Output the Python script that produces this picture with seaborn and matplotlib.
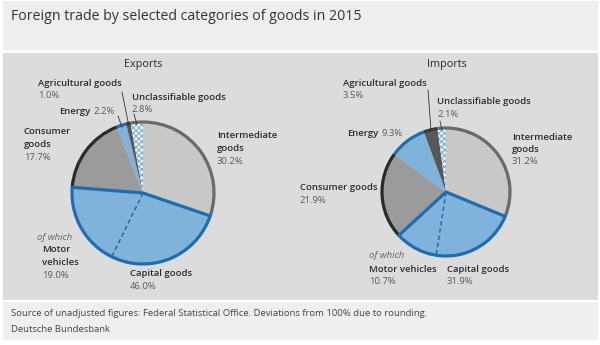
import numpy as np
import matplotlib
matplotlib.use("Agg")
import matplotlib.pyplot as plt
from matplotlib.patches import Rectangle, Wedge, Arc
import seaborn as sns

# ---------------- data ----------------
title = "Foreign trade by selected categories of goods in 2015"
categories = ["Intermediate goods", "Capital goods", "Consumer goods",
              "Energy", "Agricultural goods", "Unclassifiable goods"]
exports = [30.2, 46.0, 17.7, 2.2, 1.0, 2.8]
exports_motor = 19.0
imports = [31.2, 31.9, 21.9, 9.3, 3.5, 2.1]
imports_motor = 10.7
footer1 = "Source of unadjusted figures: Federal Statistical Office. Deviations from 100% due to rounding."
footer2 = "Deutsche Bundesbank"

# ---------------- style ----------------
sns.set_theme(style="white")
plt.rcParams['font.family'] = ['Open Sans', 'DejaVu Sans']
plt.rcParams['hatch.linewidth'] = 0.9

W, H = 600, 345
fig = plt.figure(figsize=(6, 3.45), dpi=100)
fig.patch.set_facecolor("white")
ax = fig.add_axes([0, 0, 1, 1])

def Y(py):
    return H - py

# background bands
ax.add_patch(Rectangle((3, Y(50)), 595, 49, facecolor="#eeeeee", edgecolor="none", zorder=0))
ax.add_patch(Rectangle((3, Y(300)), 595, 247, facecolor="#dcdcdc", edgecolor="none", zorder=0))
ax.add_patch(Rectangle((3, Y(340)), 595, 38, facecolor="#efefef", edgecolor="none", zorder=0))

BLUE_FILL = "#80b3db"
BLUE_EDGE = "#1f6db0"
fills = ["#c8c8c8", BLUE_FILL, BLUE_FILL, "#9b9b9b", BLUE_FILL, "#585858", "white"]
rims = ["#6a6a6a", None, None, "#2a2a2a", BLUE_EDGE, "#3a3a3a", "#6a6a6a"]


def draw_pie(vals, motor, cx, cy, r):
    v = [vals[0], vals[1] - motor, motor] + list(vals[2:])
    wedges, _ = ax.pie(v, colors=fills, startangle=90, counterclock=False,
                       center=(cx, Y(cy)), radius=r,
                       wedgeprops=dict(linewidth=0))
    wedges[-1].set_hatch("xxxxxx")
    wedges[-1].set_edgecolor(BLUE_FILL)
    wedges[-1].set_linewidth(0)
    for w, c in zip(wedges, rims):
        if c is None:
            continue
        ax.add_patch(Arc((cx, Y(cy)), 2 * r, 2 * r, theta1=w.theta1, theta2=w.theta2,
                         color=c, lw=2.3, zorder=3))
    t1 = min(wedges[1].theta1, wedges[2].theta1)
    t2 = max(wedges[1].theta2, wedges[2].theta2)
    ax.add_patch(Wedge((cx, Y(cy)), r, t1, t2, fill=False, edgecolor=BLUE_EDGE,
                       lw=2.3, joinstyle="round", zorder=4))
    a = np.deg2rad(wedges[2].theta2)
    ax.plot([cx, cx + r * np.cos(a)], [Y(cy), Y(cy) + r * np.sin(a)],
            color=BLUE_EDGE, lw=1.1, dashes=(3, 1.8), zorder=4)
    return wedges


def slice_point(w, cx, cy, r, f=0.97):
    a = np.deg2rad((w.theta1 + w.theta2) / 2)
    return cx + f * r * np.cos(a), Y(cy) + f * r * np.sin(a)


ex_c = (143, 193, 71)
im_c = (446, 192, 64)
we = draw_pie(exports, exports_motor, *ex_c)
wi = draw_pie(imports, imports_motor, *im_c)

ax.set_xlim(0, W)
ax.set_ylim(0, H)
ax.set_aspect("equal")
ax.axis("off")

NAME = "#2b2b2b"
PCT = "#5a5a5a"
FS = 6.8


def T(x, y, s, color=NAME, **kw):
    kw.setdefault("fontsize", FS)
    return ax.text(x, Y(y), s, color=color, va="center", ha=kw.pop("ha", "left"), **kw)


def label(x, y, lines, pct, step=12.5):
    for i, ln in enumerate(lines):
        T(x, y + i * step, ln, fontweight="semibold")
    T(x, y + len(lines) * step, pct, color=PCT)


renderer = fig.canvas.get_renderer()


def inline(x, y, name, pct):
    t = T(x, y, name, fontweight="semibold")
    bb = t.get_window_extent(renderer=renderer)
    T(bb.x1 + 3, y, pct, color=PCT)


# title & headers
T(11, 17, title, color="#333333", fontsize=10.2)
T(143, 65, "Exports", fontsize=7.8, ha="center")
T(447, 65, "Imports", fontsize=7.8, ha="center")

# exports labels
label(38, 83, ["Agricultural goods"], f"{exports[4]:.1f}%")
inline(59, 112, "Energy", f"{exports[3]:.1f}%")
label(132, 97, ["Unclassifiable goods"], f"{exports[5]:.1f}%")
label(24, 132, ["Consumer", "goods"], f"{exports[2]:.1f}%")
label(217, 136, ["Intermediate", "goods"], f"{exports[0]:.1f}%")
T(37, 238, "of which", color="#666666", style="italic")
label(42, 250, ["Motor", "vehicles"], f"{exports_motor:.1f}%")
label(130, 274, ["Capital goods"], f"{exports[1]:.1f}%")

# imports labels
label(343, 83, ["Agricultural goods"], f"{imports[4]:.1f}%")
label(437, 102, ["Unclassifiable goods"], f"{imports[5]:.1f}%")
inline(347, 133, "Energy", f"{imports[3]:.1f}%")
label(300, 188, ["Consumer goods"], f"{imports[2]:.1f}%")
label(512, 137, ["Intermediate", "goods"], f"{imports[0]:.1f}%")
T(369, 256, "of which", color="#666666", style="italic")
label(369, 269, ["Motor vehicles"], f"{imports_motor:.1f}%")
label(447, 269, ["Capital goods"], f"{imports[1]:.1f}%")


def leader(w, c, start):
    px, py = slice_point(w, *c)
    ax.plot([start[0], px], [Y(start[1]), py], color="#333333", lw=0.6, zorder=5)

leader(we[5], ex_c, (122, 92))
leader(we[4], ex_c, (118, 116))
leader(we[6], ex_c, (134, 114))
leader(wi[5], im_c, (428, 90))
leader(wi[6], im_c, (440, 121))

# footer
T(11, 314, footer1, color="#444444", fontsize=6.8)
T(11, 329, footer2, color="#444444", fontsize=6.8)

fig.savefig("out.png", dpi=100, facecolor="white")
